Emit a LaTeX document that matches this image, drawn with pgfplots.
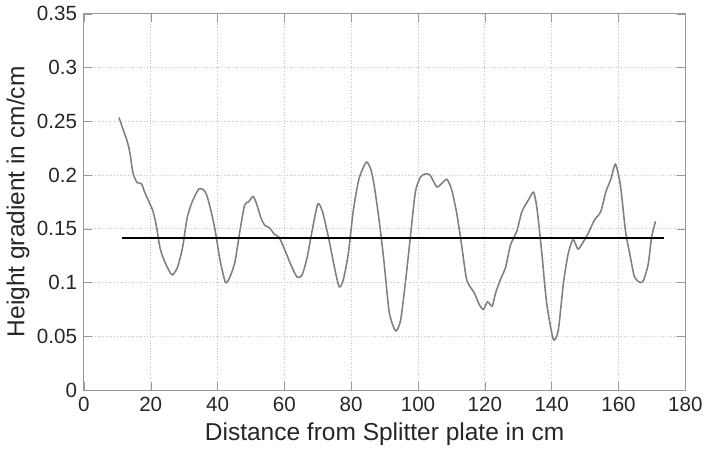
\documentclass[border=0pt]{standalone}
\usepackage{fontspec}
\setmainfont{Liberation Sans}
\usepackage{pgfplots}
\pgfplotsset{compat=1.18}
\begin{document}
\begin{tikzpicture}
\begin{axis}[
scale only axis,
width=307pt,
height=192pt,
xmin=0, xmax=180,
ymin=0, ymax=0.35,
xtick={0,20,...,180},
ytick={0,0.05,0.1,0.15,0.2,0.25,0.3,0.35},
/pgf/number format/assume math mode=true,
/pgf/number format/fixed,
/pgf/number format/precision=2,
tick label style={font=\fontsize{10.5}{12}\selectfont, text=black!85},
label style={font=\fontsize{12.5}{14}\selectfont, text=black!85},
xlabel={Distance from Splitter plate in cm},
ylabel={Height gradient in cm/cm},
xlabel style={yshift=1pt},
ylabel style={yshift=-3pt},
grid=major,
major grid style={densely dotted, gray!45},
axis line style={gray!80},
tick style={gray!80},
tick align=inside,
]
\addplot[color=black!50, line width=0.8pt, smooth, tension=0.4] coordinates {
(10.5,0.2535) (11.8,0.242) (13.0,0.231) (13.75,0.221) (14.7,0.202) (15.9,0.193)
(17.2,0.192) (18.2,0.184) (19.2,0.177) (20.6,0.167) (21.6,0.154) (22.8,0.132)
(24.1,0.120) (25.5,0.111) (26.5,0.107) (28.0,0.114) (29.5,0.132) (30.9,0.160)
(32.4,0.175) (34.4,0.187) (35.9,0.186) (36.8,0.181) (38.1,0.166) (39.3,0.148)
(40.8,0.120) (42.4,0.100) (43.7,0.105) (45.2,0.119) (46.7,0.148) (48.1,0.172)
(49.3,0.175) (50.6,0.180) (51.6,0.174) (53.0,0.160) (54.2,0.153) (55.5,0.151)
(57.0,0.145) (58.4,0.142) (59.9,0.132) (61.9,0.117) (63.8,0.105) (65.3,0.107)
(66.8,0.123) (68.3,0.148) (70.0,0.173) (71.4,0.166) (73.2,0.142) (75.0,0.114)
(76.4,0.096) (77.6,0.102) (79.1,0.126) (80.6,0.166) (82.3,0.196) (84.5,0.212)
(85.9,0.205) (86.9,0.190) (88.4,0.157) (89.9,0.117) (91.4,0.072) (93.3,0.055)
(94.8,0.065) (96.3,0.102) (97.7,0.142) (99.2,0.184) (100.7,0.198) (102.2,0.201)
(103.6,0.200) (105.6,0.189) (107.1,0.192) (108.6,0.196) (110.0,0.187) (111.5,0.166)
(112.9,0.138) (114.4,0.105) (115.4,0.097) (116.9,0.090) (118.4,0.079) (119.6,0.075)
(120.8,0.082) (122.2,0.078) (123.2,0.090) (124.7,0.103) (126.2,0.114) (127.7,0.135)
(129.6,0.148) (131.1,0.166) (133.1,0.177) (134.6,0.184) (135.6,0.169) (137.0,0.129)
(138.5,0.081) (140.5,0.047) (142.0,0.056) (143.5,0.099) (144.9,0.126) (146.4,0.140)
(147.9,0.131) (149.3,0.137) (150.8,0.145) (152.8,0.158) (154.7,0.166) (156.2,0.184)
(157.7,0.196) (159.1,0.210) (160.6,0.190) (162.1,0.148) (163.6,0.123) (164.8,0.105)
(166.5,0.100) (167.5,0.102) (168.9,0.117) (169.9,0.142) (171.1,0.157)
};
\addplot[color=black, line width=1.3pt] coordinates {(11.3,0.1415) (173.7,0.1415)};
\end{axis}
\end{tikzpicture}
\end{document}
